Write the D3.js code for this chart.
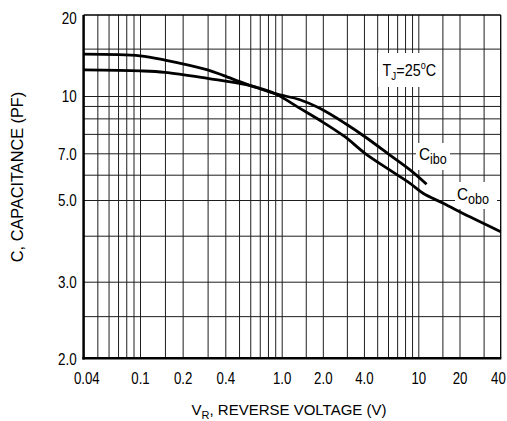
<!DOCTYPE html>
<html>
<head>
<meta charset="utf-8">
<script src="https://cdn.jsdelivr.net/npm/d3@7"></script>
<style>
  html, body { margin: 0; padding: 0; background: #fff; }
  svg { display: block; font-family: "Liberation Sans", Arial, Helvetica, sans-serif; }
</style>
</head>
<body>
<div id="chart"></div>
<script>
// ==== Data: [reverse voltage V, capacitance pF] ====
const cobo = [
  [0.04, 14.3], [0.1, 14.1], [0.15, 13.6], [0.3, 12.5], [0.39, 11.9], [0.57, 11.05],
  [0.9, 10.2], [1.36, 9.26], [1.9, 8.6], [2.9, 7.76], [4.07, 7.0], [6.2, 6.2],
  [8.7, 5.64], [10.9, 5.24], [15.2, 4.9], [23.8, 4.5], [40, 4.1]
];
const cibo = [
  [0.04, 12.5], [0.1, 12.4], [0.15, 12.25], [0.3, 11.63], [0.57, 10.99],
  [0.9, 10.2], [1.36, 9.77], [1.9, 9.26], [2.9, 8.44], [4.07, 7.76],
  [6.2, 6.91], [8.7, 6.21], [11.5, 5.6]
];

const xTickValues = [0.04, 0.1, 0.2, 0.4, 1, 2, 4, 10, 20, 40];
const xTickLabels = ["0.04", "0.1", "0.2", "0.4", "1.0", "2.0", "4.0", "10", "20", "40"];
const yTickValues = [20, 10, 7, 5, 3, 2];
const yTickLabels = ["20", "10", "7.0", "5.0", "3.0", "2.0"];

// grid lines as printed
const xGrid = [0.05, 0.06, 0.07, 0.08, 0.09, 0.1, 0.15, 0.2, 0.3, 0.4, 0.5, 0.6, 0.7, 0.8, 0.9,
               1, 1.5, 2, 3, 4, 5, 6, 7, 8, 9, 10, 15, 20, 30];
const yGrid = [15, 10, 9.4, 8.7, 7.9, 7, 6, 5, 4, 3, 2.5];

// ==== Setup ====
const width = 507, height = 421;
const plotL = 83.6, plotR = 500.7, plotT = 15, plotB = 358.3;

// the printed grid is not an even log grid, so each decade / label is calibrated on its own
const x = d3.scaleLog()
  .domain([0.04, 0.1, 1, 10, 40])
  .range([plotL, 140, 281.7, 418.3, plotR]);
const y = d3.scaleLog()
  .domain([20, 10, 7, 5, 3, 2])
  .range([plotT, 96, 153.3, 200, 281.7, plotB]);

const svg = d3.select("#chart").append("svg")
  .attr("width", width)
  .attr("height", height);

// ==== Grid ====
svg.append("g")
  .attr("transform", `translate(0,${plotB})`)
  .call(d3.axisBottom(x).tickValues(xGrid).tickSize(-(plotB - plotT)).tickFormat(""))
  .call(g => g.select(".domain").remove())
  .call(g => g.selectAll("line").attr("stroke", "#1e1e1e").attr("stroke-width", 1));

svg.append("g")
  .attr("transform", `translate(${plotL},0)`)
  .call(d3.axisLeft(y).tickValues(yGrid).tickSize(-(plotR - plotL)).tickFormat(""))
  .call(g => g.select(".domain").remove())
  .call(g => g.selectAll("line").attr("stroke", "#1e1e1e").attr("stroke-width", 1));

// white patches behind the annotations
const boxes = [
  { x: 378, y: 53, w: 62, h: 34 },
  { x: 416, y: 143, w: 34, h: 27 },
  { x: 455, y: 182, w: 42, h: 27 }
];
svg.selectAll("rect.patch").data(boxes).join("rect")
  .attr("class", "patch")
  .attr("x", d => d.x).attr("y", d => d.y)
  .attr("width", d => d.w).attr("height", d => d.h)
  .attr("fill", "#fff");

// ==== Frame ====
svg.append("line").attr("x1", plotL).attr("x2", plotR).attr("y1", plotT).attr("y2", plotT)
  .attr("stroke", "#000").attr("stroke-width", 1.3);
svg.append("line").attr("x1", plotR).attr("x2", plotR).attr("y1", plotT).attr("y2", plotB)
  .attr("stroke", "#000").attr("stroke-width", 1.3);
svg.append("line").attr("x1", plotL).attr("x2", plotL).attr("y1", plotT).attr("y2", plotB + 1.2)
  .attr("stroke", "#000").attr("stroke-width", 2.5);
svg.append("line").attr("x1", plotL - 1.2).attr("x2", plotR + 0.6).attr("y1", plotB).attr("y2", plotB)
  .attr("stroke", "#000").attr("stroke-width", 2.5);

// ==== Curves ====
const line = d3.line()
  .x(d => x(d[0]))
  .y(d => y(d[1]))
  .curve(d3.curveCatmullRom.alpha(0.5));

[cobo, cibo].forEach(s => {
  svg.append("path")
    .datum(s)
    .attr("d", line)
    .attr("fill", "none")
    .attr("stroke", "#000")
    .attr("stroke-width", 2.8);
});

// ==== Axes labels ====
const xAxis = svg.append("g")
  .attr("transform", `translate(0,${plotB})`)
  .call(d3.axisBottom(x).tickValues(xTickValues).tickSize(0)
    .tickFormat((d, i) => xTickLabels[i]));
xAxis.select(".domain").remove();
xAxis.attr("font-family", null).attr("font-size", 17);
xAxis.selectAll("text")
  .attr("y", 25.7).attr("dy", null)
  // first and last labels sit a little inward of their grid lines
  .attr("x", (d, i) => i === 0 ? 3.5 : (i === xTickValues.length - 1 ? -3.5 : 0))
  .attr("transform", "scale(0.78,1)")
  .attr("fill", "#000");

const yAxis = svg.append("g")
  .attr("transform", `translate(${plotL},0)`)
  .call(d3.axisLeft(y).tickValues(yTickValues).tickSize(0)
    .tickFormat((d, i) => yTickLabels[i]));
yAxis.select(".domain").remove();
yAxis.attr("font-family", null).attr("font-size", 16);
yAxis.selectAll("text")
  .attr("x", -8.2)
  .attr("dy", (d, i) => i === 0 ? "0.56em" : "0.36em")
  .attr("transform", "scale(0.84,1)")
  .attr("fill", "#000");

// axis titles
svg.append("text")
  .attr("transform", "translate(23,177) rotate(-90)")
  .attr("text-anchor", "middle")
  .attr("font-size", 16.3)
  .text("C, CAPACITANCE (PF)");

const xt = svg.append("text")
  .attr("x", 289).attr("y", 415)
  .attr("text-anchor", "middle")
  .attr("font-size", 15);
xt.append("tspan").text("V");
xt.append("tspan").attr("font-size", 11).attr("dy", 4).text("R");
xt.append("tspan").attr("dy", -4).text(", REVERSE VOLTAGE (V)");

// ==== Annotations ====
const tj = svg.append("text")
  .attr("transform", "translate(382.5,76) scale(0.9,1)")
  .attr("font-size", 16);
tj.append("tspan").text("T");
tj.append("tspan").attr("font-size", 11).attr("dy", 4).text("J");
tj.append("tspan").attr("dy", -4).text("=25");
tj.append("tspan").attr("font-size", 10).attr("dy", -7).text("o");
tj.append("tspan").attr("dy", 7).text("C");

function capLabel(tx, ty, sub) {
  const t = svg.append("text")
    .attr("transform", `translate(${tx},${ty}) scale(0.9,1)`)
    .attr("font-size", 17);
  t.append("tspan").text("C");
  t.append("tspan").attr("font-size", 14).attr("dy", 4).text(sub);
}
capLabel(419, 160, "ibo");
capLabel(457, 200, "obo");
</script>
</body>
</html>
